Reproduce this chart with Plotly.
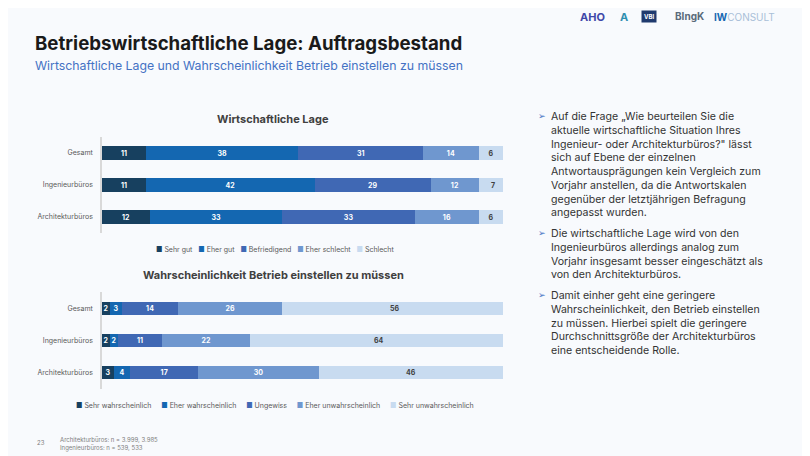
import plotly.graph_objects as go

# Data
categories = ["Gesamt", "Ingenieurbüros", "Architekturbüros"]

lage_names = ["Sehr gut", "Eher gut", "Befriedigend", "Eher schlecht", "Schlecht"]
lage_sehr_gut = [11, 11, 12]
lage_eher_gut = [38, 42, 33]
lage_befriedigend = [31, 29, 33]
lage_eher_schlecht = [14, 12, 16]
lage_schlecht = [6, 7, 6]

betrieb_names = ["Sehr wahrscheinlich", "Eher wahrscheinlich", "Ungewiss",
                 "Eher unwahrscheinlich", "Sehr unwahrscheinlich"]
betrieb_sehr_wahr = [2, 2, 3]
betrieb_eher_wahr = [3, 2, 4]
betrieb_ungewiss = [14, 11, 17]
betrieb_eher_unwahr = [26, 22, 30]
betrieb_sehr_unwahr = [56, 64, 46]

colors = ["#17405f", "#1467b1", "#4068b4", "#6f97cf", "#c8dbf0"]
label_colors = ["white", "white", "white", "white", "#404040"]

# page has an 8px body margin, so the figure is a bit smaller and shifted
W, H = 810, 456
OFF = 8
FW, FH = W - OFF, H - OFF
FONT = "Inter"


def fx(p):
    return (p - OFF) / FW


def fy(p):
    return 1 - (p - OFF) / FH


fig = go.Figure()

lage_series = [lage_sehr_gut, lage_eher_gut, lage_befriedigend, lage_eher_schlecht, lage_schlecht]
betrieb_series = [betrieb_sehr_wahr, betrieb_eher_wahr, betrieb_ungewiss,
                  betrieb_eher_unwahr, betrieb_sehr_unwahr]

for vals, name, c, tc in zip(lage_series, lage_names, colors, label_colors):
    fig.add_trace(go.Bar(
        x=vals, y=categories, orientation="h", name=name,
        marker=dict(color=c, line=dict(width=0)),
        text=vals, textposition="inside", insidetextanchor="middle",
        constraintext="none", textangle=0,
        textfont=dict(size=7, color=tc, family=FONT, weight="bold"),
        xaxis="x", yaxis="y", showlegend=False,
    ))

for vals, name, c, tc in zip(betrieb_series, betrieb_names, colors, label_colors):
    fig.add_trace(go.Bar(
        x=vals, y=categories, orientation="h", name=name,
        marker=dict(color=c, line=dict(width=0)),
        text=vals, textposition="inside", insidetextanchor="middle",
        constraintext="none", textangle=0,
        textfont=dict(size=7, color=tc, family=FONT, weight="bold"),
        xaxis="x2", yaxis="y2", showlegend=False,
    ))

yax = dict(
    range=[2.5, -0.5], showgrid=False, zeroline=False,
    showline=True, linecolor="#d9d9d9", linewidth=1.5,
    ticks="", ticklabelstandoff=6,
    tickfont=dict(size=7, color="#595959", family=FONT),
)
xax = dict(range=[0, 100], visible=False, fixedrange=True)

fig.update_layout(
    width=FW, height=FH,
    margin=dict(l=0, r=0, t=0, b=0),
    paper_bgcolor="#f8fafd", plot_bgcolor="rgba(0,0,0,0)",
    barmode="stack", bargap=0.59,
    font=dict(family=FONT, color="#404040"),
    xaxis=dict(xax, domain=[fx(102), fx(503)], anchor="y"),
    yaxis=dict(yax, domain=[fy(233), fy(137)], anchor="x"),
    xaxis2=dict(xax, domain=[fx(102), fx(503)], anchor="y2"),
    yaxis2=dict(yax, domain=[fy(389), fy(292)], anchor="x2"),
)

ann = []


def text(x, y, s, size, color="#404040", bold=False, xanchor="left", yanchor="middle", align="left", **kw):
    ann.append(dict(
        x=fx(x), y=fy(y), xref="paper", yref="paper", text=s, showarrow=False,
        xanchor=xanchor, yanchor=yanchor, align=align,
        font=dict(size=size, color=color, family=FONT, weight="bold" if bold else "normal"), **kw,
    ))


# Titles
text(33, 43, "Betriebswirtschaftliche Lage: Auftragsbestand", 18.7, "#1a1a1a", bold=True)
text(33, 66, "Wirtschaftliche Lage und Wahrscheinlichkeit Betrieb einstellen zu müssen", 12.3, "#4472c4")
text(273, 119, "Wirtschaftliche Lage", 11, "#404040", bold=True, xanchor="center")
text(273, 275, "Wahrscheinlichkeit Betrieb einstellen zu müssen", 11, "#404040", bold=True, xanchor="center")

# Legends
gap = "\u00a0\u00a0\u00a0"
leg1 = gap.join(f"<span style='color:{c}'>■</span> {n}" for n, c in zip(lage_names, colors))
leg2 = ("\u00a0" * 5).join(f"<span style='color:{c}'>■</span> {n}" for n, c in zip(betrieb_names, colors))
text(275, 249, leg1, 7, "#595959", xanchor="center")
text(275, 405, leg2, 7, "#595959", xanchor="center")

# Footer
text(35, 442, "23", 6, "#7f7f7f")
text(58, 444, "Architekturbüros: n = 3.999, 3.985<br>Ingenieurbüros: n = 539, 533", 6, "#7f7f7f")

# Right text
bullets = [
    (108, "Auf die Frage „Wie beurteilen Sie die<br>aktuelle wirtschaftliche Situation Ihres<br>"
          "Ingenieur- oder Architekturbüros?\" lässt<br>sich auf Ebene der einzelnen<br>"
          "Antwortausprägungen kein Vergleich zum<br>Vorjahr anstellen, da die Antwortskalen<br>"
          "gegenüber der letztjährigen Befragung<br>angepasst wurden."),
    (225, "Die wirtschaftliche Lage wird von den<br>Ingenieurbüros allerdings analog zum<br>"
          "Vorjahr insgesamt besser eingeschätzt als<br>von den Architekturbüros."),
    (287, "Damit einher geht eine geringere<br>Wahrscheinlichkeit, den Betrieb einstellen<br>"
          "zu müssen. Hierbei spielt die geringere<br>Durchschnittsgröße der Architekturbüros<br>"
          "eine entscheidende Rolle."),
]
for ytop, s in bullets:
    text(536, ytop + 7, "➢", 9, "#4472c4")
    text(549, ytop, s, 10.6, "#333333", yanchor="top")

# Logos (approximated as text)
text(578, 17, "AHO", 11, "#3f48a8", bold=True)
text(618, 17, "A", 11, "#2f8fb0", bold=True)
ann.append(dict(x=fx(641), y=fy(17), xref="paper", yref="paper", text="VBI", showarrow=False,
                xanchor="left", yanchor="middle", bgcolor="#1f3a6e", borderpad=2,
                font=dict(size=6, color="white", family=FONT, weight="bold")))
text(673, 17, "BIngK", 10, "#5a6a7a", bold=True)
text(712, 17, "<b><span style='color:#1467b1'>IW</span></b>CONSULT", 10, "#a9bfd8")

fig.update_layout(annotations=ann)

fig.write_html("out.html")
